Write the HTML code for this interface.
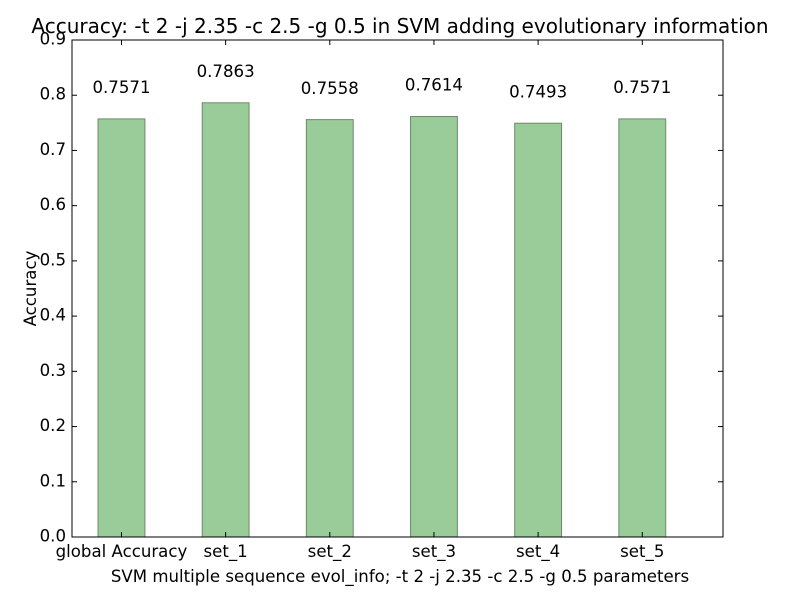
<!DOCTYPE html>
<html><head><meta charset="utf-8"><style>body{margin:0;background:#fff}svg{font-family:"DejaVu Sans","Liberation Sans",sans-serif}</style></head>
<body>
<svg id="chart" width="800" height="600" viewBox="0 0 800 600">
<rect width="800" height="600" fill="#fff"/>
<text x="400" y="33" font-size="20" text-anchor="middle">Accuracy: -t 2 -j 2.35 -c 2.5 -g 0.5 in SVM adding evolutionary information</text>
<g id="bars"></g>
<g id="axes"></g>
<text x="400" y="582" font-size="16.6" text-anchor="middle">SVM multiple sequence evol_info; -t 2 -j 2.35 -c 2.5 -g 0.5 parameters</text>
<text transform="translate(36,288.5) rotate(-90)" font-size="16.6" text-anchor="middle">Accuracy</text>
</svg>
<script>
const categories = ["global Accuracy","set_1","set_2","set_3","set_4","set_5"];
const values = [0.7571,0.7863,0.7558,0.7614,0.7493,0.7571];
const valueLabels = ["0.7571","0.7863","0.7558","0.7614","0.7493","0.7571"];
const yTicks = [0,0.1,0.2,0.3,0.4,0.5,0.6,0.7,0.8,0.9];
const yTickLabels = ["0.0","0.1","0.2","0.3","0.4","0.5","0.6","0.7","0.8","0.9"];

const L=72,R=723,T=40,B=537, xmin=-0.25,xmax=6, ymax=0.9, bw=0.45, FS=16.6;
const sx=v=>L+(v-xmin)/(xmax-xmin)*(R-L);
const sy=v=>B-v/ymax*(B-T);
const NS="http://www.w3.org/2000/svg";
function mk(tag,attrs,parent){const e=document.createElementNS(NS,tag);for(const k in attrs)e.setAttribute(k,attrs[k]);parent.appendChild(e);return e;}
const bars=document.getElementById('bars'), axes=document.getElementById('axes');
values.forEach((v,i)=>{
  const r=mk('rect',{x:sx(i),y:sy(v),width:sx(i+bw)-sx(i),height:sy(0)-sy(v),fill:'#99cc99',stroke:'#6b8a6b','stroke-width':1},bars);
  
  
  const t=mk('text',{x:sx(i+bw/2),y:sy(v+0.055),'font-size':FS,'text-anchor':'middle','dominant-baseline':'middle'},bars);
  t.textContent=valueLabels[i];
  
  
  const xl=mk('text',{x:sx(i+bw/2),y:B+20,'font-size':FS,'text-anchor':'middle'},axes);
  xl.textContent=categories[i];
  
  
  mk('line',{x1:sx(i+bw/2),x2:sx(i+bw/2),y1:B,y2:B-5,stroke:'#000'},axes);
  mk('line',{x1:sx(i+bw/2),x2:sx(i+bw/2),y1:T,y2:T+5,stroke:'#000'},axes);
});
yTicks.forEach((v,i)=>{
  const y=sy(v);
  mk('line',{x1:L,x2:L+5,y1:y,y2:y,stroke:'#000'},axes);
  mk('line',{x1:R,x2:R-5,y1:y,y2:y,stroke:'#000'},axes);
  const t=mk('text',{x:L-6,y:y,'font-size':FS,'text-anchor':'end','dominant-baseline':'middle'},axes);
  t.textContent=yTickLabels[i];
  
  
});
const f=mk('rect',{x:L,y:T,width:R-L,height:B-T,fill:'none',stroke:'#000','stroke-width':1},axes);


</script>
</body></html>
